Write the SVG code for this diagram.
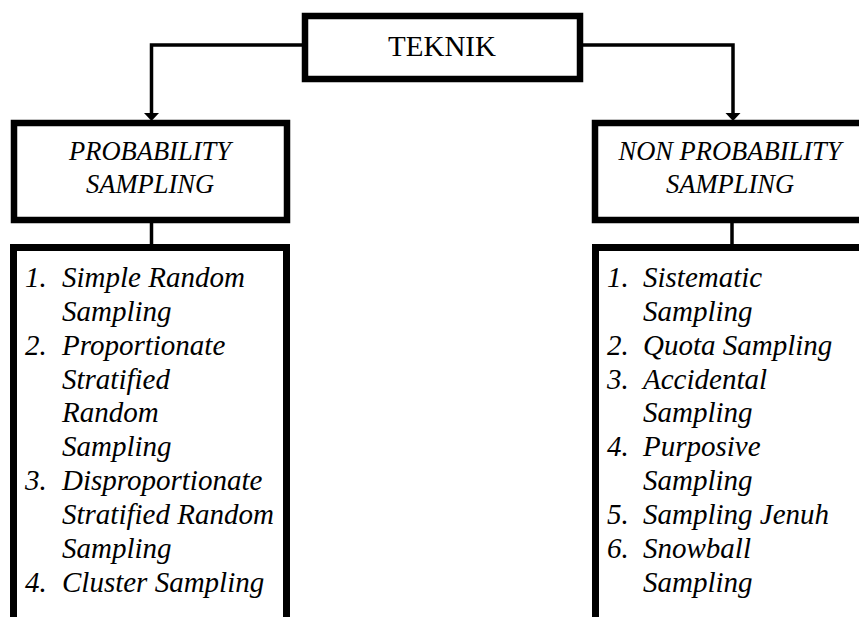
<svg xmlns="http://www.w3.org/2000/svg" width="859" height="617" viewBox="0 0 859 617">
<style>
.box{fill:#fff;stroke:#000;stroke-width:6.5}
.list{fill:#fff;stroke:#000;stroke-width:7}
.con{fill:none;stroke:#000;stroke-width:3.5}
.t{font-family:"Liberation Serif","Times New Roman",serif;font-size:29px;fill:#000}
.h{font-size:26.5px}
.i{font-style:italic}
</style>
<rect width="859" height="617" fill="#fff"/>
<g id="connectors">
<path class="con" d="M302,45 H151.5 V114"/>
<path d="M144,113 L159,113 L151.5,121 Z" fill="#000"/>
<path class="con" d="M583,45 H733 V114"/>
<path d="M725.5,113 L740.5,113 L733,121 Z" fill="#000"/>
<path class="con" d="M151.5,223 V245"/>
<path class="con" d="M732,223 V245"/>
</g>
<g id="teknik">
<rect class="box" x="305" y="16" width="275" height="63"/>
<text class="t" x="442" y="56" text-anchor="middle">TEKNIK</text>
</g>
<g id="probability">
<rect class="box" x="14" y="123" width="273" height="97"/>
<text class="t h i" x="150" y="160" text-anchor="middle">PROBABILITY</text>
<text class="t h i" x="150" y="193" text-anchor="middle">SAMPLING</text>
</g>
<g id="non-probability">
<rect class="box" x="595" y="123" width="280" height="97"/>
<text class="t h i" x="730" y="160" text-anchor="middle">NON PROBABILITY</text>
<text class="t h i" x="730" y="193" text-anchor="middle">SAMPLING</text>
</g>
<g id="probability-list">
<rect class="list" x="13.5" y="247.5" width="273" height="400"/>
<g class="t i">
<text x="25" y="287">1.</text><text x="62" y="287">Simple Random</text>
<text x="62" y="321">Sampling</text>
<text x="25" y="355">2.</text><text x="62" y="355">Proportionate</text>
<text x="62" y="389">Stratified</text>
<text x="62" y="422">Random</text>
<text x="62" y="456">Sampling</text>
<text x="25" y="490">3.</text><text x="62" y="490">Disproportionate</text>
<text x="62" y="524">Stratified Random</text>
<text x="62" y="558">Sampling</text>
<text x="25" y="592">4.</text><text x="62" y="592">Cluster Sampling</text>
</g>
</g>
<g id="non-probability-list">
<rect class="list" x="595.5" y="247.5" width="300" height="400"/>
<g class="t i">
<text x="607" y="287">1.</text><text x="643" y="287">Sistematic</text>
<text x="643" y="321">Sampling</text>
<text x="607" y="355">2.</text><text x="643" y="355">Quota Sampling</text>
<text x="607" y="389">3.</text><text x="643" y="389">Accidental</text>
<text x="643" y="422">Sampling</text>
<text x="607" y="456">4.</text><text x="643" y="456">Purposive</text>
<text x="643" y="490">Sampling</text>
<text x="607" y="524">5.</text><text x="643" y="524">Sampling Jenuh</text>
<text x="607" y="558">6.</text><text x="643" y="558">Snowball</text>
<text x="643" y="592">Sampling</text>
</g>
</g>
</svg>
